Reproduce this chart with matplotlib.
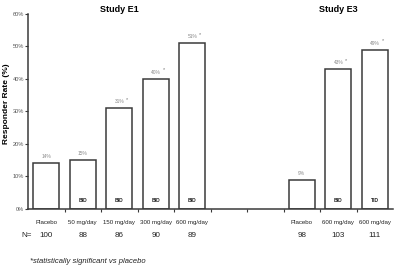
import numpy as np
import matplotlib
matplotlib.use("Agg")
from matplotlib import pyplot as plt

plt.rcParams['font.family'] = ['Liberation Sans', 'DejaVu Sans']

# Study E1
e1_doses = ['Placebo', '50 mg/day', '150 mg/day', '300 mg/day', '600 mg/day']
e1_rates = [14, 15, 31, 40, 51]
e1_n = [100, 88, 86, 90, 89]
e1_sig = [False, False, True, True, True]
e1_regimen = ['', 'BID', 'BID', 'BID', 'BID']

# Study E3
e3_doses = ['Placebo', '600 mg/day', '600 mg/day']
e3_rates = [9, 43, 49]
e3_n = [98, 103, 111]
e3_sig = [False, True, True]
e3_regimen = ['', 'BID', 'TID']

gap = 2  # empty category slots between the two studies
x1 = np.arange(len(e1_doses))
x3 = len(e1_doses) + gap + np.arange(len(e3_doses))
xs = np.concatenate([x1, x3])
rates = e1_rates + e3_rates
doses = e1_doses + e3_doses
ns = e1_n + e3_n
sig = e1_sig + e3_sig
regimen = e1_regimen + e3_regimen
n_slots = len(e1_doses) + gap + len(e3_doses)

fig = plt.figure(figsize=(4, 2.72), dpi=100)
ax = fig.add_axes([0.07, 0.232, 0.9125, 0.717])
edge = '#3a3a3a'
ax.bar(xs, rates, width=0.72, color='white', edgecolor=edge, linewidth=1.1)

ax.set_xlim(-0.5, n_slots - 0.5)
ax.set_ylim(0, 60)
ax.set_yticks(range(0, 61, 10))
ax.set_yticklabels(['{}%'.format(v) for v in range(0, 61, 10)])
ax.tick_params(axis='y', labelsize=4.1, labelcolor='#555555', length=2, width=0.8, color=edge, pad=1)
ax.set_xticks(np.arange(n_slots - 1) + 0.5)
ax.set_xticklabels([])
ax.tick_params(axis='x', length=2, width=0.8, color=edge, direction='out')
for s in ['top', 'right']:
    ax.spines[s].set_visible(False)
for s in ['left', 'bottom']:
    ax.spines[s].set_color(edge)
    ax.spines[s].set_linewidth(1.1)

ax.set_ylabel('Responder Rate (%)', fontsize=6, fontweight='bold')
ax.yaxis.set_label_coords(-0.049, 0.54)

for x, r, s, reg in zip(xs, rates, sig, regimen):
    ax.text(x, r + 1.2, '{}%'.format(r), ha='center', va='bottom', fontsize=3.5, color='#888888')
    if s:
        ax.text(x + 0.22, r + 2.0, '*', ha='center', va='bottom', fontsize=4, color='#777777')
    if reg:
        ax.text(x, 1.8, reg, ha='center', va='bottom', fontsize=3.6, fontweight='bold', color='#222222')

trans = ax.get_xaxis_transform()
for x, d, n in zip(xs, doses, ns):
    ax.text(x, -0.055, d, transform=trans, ha='center', va='top', fontsize=4.4, color='#222222')
    ax.text(x, -0.12, str(n), transform=trans, ha='center', va='top', fontsize=5.8, color='#222222')
ax.text(-0.4, -0.12, 'N=', transform=trans, ha='right', va='top', fontsize=5.8, color='#222222')

ax.text(np.mean(x1), 1.02, 'Study E1', transform=trans, ha='center', va='center',
        fontsize=6.5, fontweight='bold')
ax.text(x3[1], 1.02, 'Study E3', transform=trans, ha='center', va='center',
        fontsize=6.5, fontweight='bold')

fig.text(0.075, 0.025, '*statistically significant vs placebo', ha='left', va='bottom',
         fontsize=5.5, style='italic', color='#222222')

fig.savefig('out.png', dpi=100)
